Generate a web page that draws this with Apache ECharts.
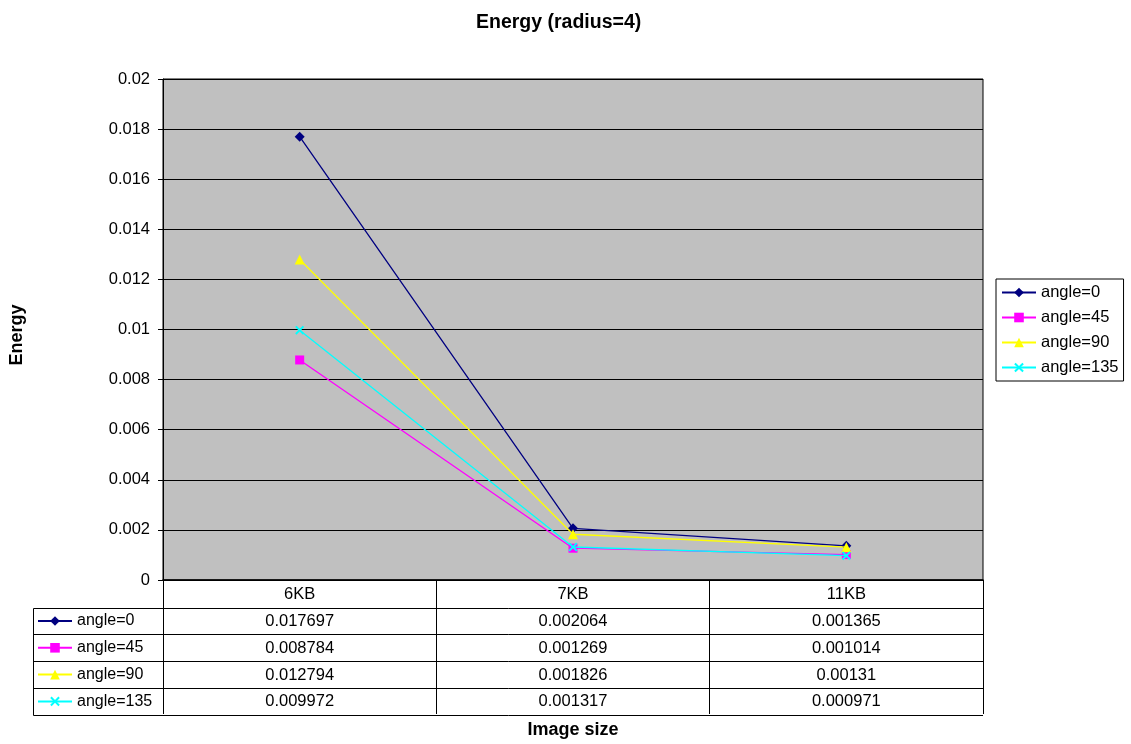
<!DOCTYPE html>
<html><head><meta charset="utf-8">
<script src="https://cdn.jsdelivr.net/npm/echarts@6/dist/echarts.min.js"></script>
<style>html,body{margin:0;padding:0;background:#fff}#c{width:1131px;height:744px}</style>
</head><body><div id="c"></div>
<script>
var categories = ['6KB', '7KB', '11KB'];
var seriesNames = ['angle=0', 'angle=45', 'angle=90', 'angle=135'];
var angle0 = [0.017697, 0.002064, 0.001365];
var angle45 = [0.008784, 0.001269, 0.001014];
var angle90 = [0.012794, 0.001826, 0.00131];
var angle135 = [0.009972, 0.001317, 0.000971];
var yTicks = { min: 0, max: 0.02, interval: 0.002 };

var values = [angle0, angle45, angle90, angle135];
var colors = ['#000080', '#FF00FF', '#FFFF00', '#00FFFF'];
var xPath = 'path://M0,1.5L1.5,0L5,3.5L8.5,0L10,1.5L6.5,5L10,8.5L8.5,10L5,6.5L1.5,10L0,8.5L3.5,5Z';
var symbols = ['diamond', 'rect', 'triangle', xPath];
var symSizes = [10, 9, 10, 9];
var FONT = 'Liberation Sans, Arial, sans-serif';
var FS = 16.5;

var chart = echarts.init(document.getElementById('c'), null, { renderer: 'canvas' });

var series = seriesNames.map(function (n, i) {
  return {
    name: n, type: 'line', data: values[i],
    symbol: symbols[i], symbolSize: symSizes[i], showSymbol: true,
    lineStyle: { color: colors[i], width: 1.3 },
    itemStyle: { color: colors[i] },
    emphasis: { disabled: true }, animation: false, z: 2 + i
  };
});

var option = {
  backgroundColor: '#fff',
  animation: false,
  title: {
    text: 'Energy (radius=4)', left: 471, top: 8,
    textStyle: { fontFamily: FONT, fontSize: 19.5, fontWeight: 'bold', color: '#000' }
  },
  grid: {
    left: 162, right: 148, top: 79, bottom: 164,
    show: true, backgroundColor: '#C0C0C0', borderColor: '#000', borderWidth: 1
  },
  legend: [{
    orient: 'vertical', left: 996, top: 279,
    data: seriesNames,
    itemWidth: 34, itemHeight: 12, itemGap: 8,
    padding: [5, 5, 5, 5],
    borderColor: '#000', borderWidth: 1, backgroundColor: '#fff',
    textStyle: { fontFamily: FONT, fontSize: FS, color: '#000' },
    selectedMode: false
  }, {
    orient: 'vertical', left: 37, top: 612.5,
    data: seriesNames,
    itemWidth: 34, itemHeight: 12, itemGap: 9.8,
    padding: 0,
    textStyle: { fontFamily: FONT, fontSize: 16, color: '#000', lineHeight: 17 },
    selectedMode: false
  }],
  xAxis: {
    type: 'category', data: categories, boundaryGap: true,
    name: 'Image size', nameLocation: 'middle', nameGap: 141,
    nameTextStyle: { fontFamily: FONT, fontSize: 18, fontWeight: 'bold', color: '#000' },
    axisLine: { lineStyle: { color: '#000', width: 1.5 } },
    axisTick: { show: true, inside: false, length: 134, lineStyle: { color: '#000', width: 1 } },
    axisLabel: { fontFamily: FONT, fontSize: FS, color: '#000', margin: 6 },
    splitLine: { show: false }
  },
  yAxis: {
    type: 'value', min: yTicks.min, max: yTicks.max, interval: yTicks.interval,
    name: 'Energy', nameLocation: 'middle', nameGap: 137, nameRotate: 90,
    nameTextStyle: { fontFamily: FONT, fontSize: 18, fontWeight: 'bold', color: '#000', padding: [0, 11, 0, 0] },
    axisLine: { show: true, lineStyle: { color: '#000', width: 1 } },
    axisTick: { show: true, length: 5, lineStyle: { color: '#000' } },
    axisLabel: {
      fontFamily: FONT, fontSize: FS, color: '#000', margin: 13,
      formatter: function (v) { return String(parseFloat(v.toFixed(4))); }
    },
    splitLine: { show: true, lineStyle: { color: '#000', width: 1 } }
  },
  series: series
};
chart.setOption(option);

// Data table beneath the axis
function buildTable() {
  var g = [];
  var y0 = chart.convertToPixel({ yAxisIndex: 0 }, 0);
  var bw = chart.convertToPixel({ xAxisIndex: 0 }, 1) - chart.convertToPixel({ xAxisIndex: 0 }, 0);
  var xl = chart.convertToPixel({ xAxisIndex: 0 }, 0) - bw / 2;
  var xr = xl + bw * categories.length;
  var rowH = 26.8;
  var headerBottom = y0 + 27.5;
  var tableLeft = 33.5;
  var stroke = { stroke: '#000', lineWidth: 1 };
  for (var r = 0; r <= seriesNames.length; r++) {
    var yy = Math.round(headerBottom + r * rowH) + 0.5;
    g.push({ type: 'line', shape: { x1: tableLeft, y1: yy, x2: xr, y2: yy }, style: stroke, silent: true });
  }
  var yBot = Math.round(headerBottom + seriesNames.length * rowH) + 0.5;
  g.push({ type: 'line', shape: { x1: tableLeft, y1: Math.round(headerBottom) + 0.5, x2: tableLeft, y2: yBot }, style: stroke, silent: true });
  for (var s = 0; s < seriesNames.length; s++) {
    for (var c = 0; c < categories.length; c++) {
      var cx = chart.convertToPixel({ xAxisIndex: 0 }, c);
      g.push({
        type: 'text', x: cx, y: headerBottom + s * rowH + rowH / 2 + 0.5,
        style: { text: String(values[s][c]), fill: '#000', font: FS + 'px ' + FONT, textAlign: 'center', textVerticalAlign: 'middle' },
        silent: true
      });
    }
  }
  chart.setOption({ graphic: g });
}
buildTable();
</script>
</body></html>
